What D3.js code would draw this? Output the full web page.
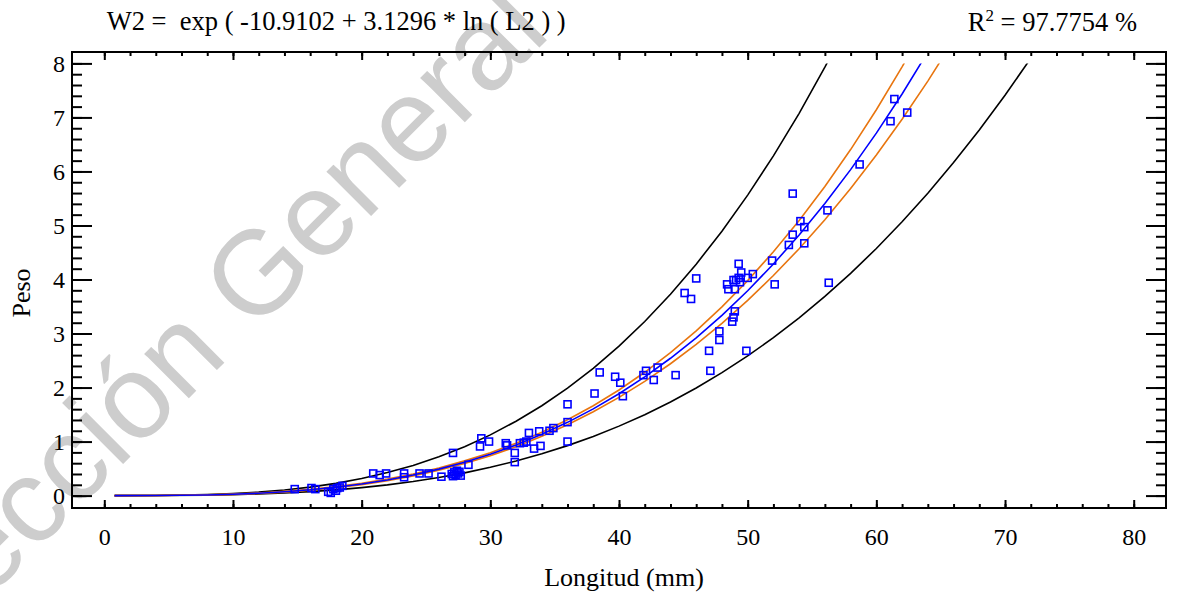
<!DOCTYPE html>
<html lang="es">
<head>
  <meta charset="UTF-8">
  <title>Peso vs Longitud</title>
  <script src="https://d3js.org/d3.v7.min.js"></script>
  <style>
    body { margin: 0; background: #fff; }
    svg text { font-family: "Liberation Serif", "Times New Roman", serif; fill: #000; }
    .tick line { stroke: #000; stroke-width: 2; }
  </style>
</head>
<body>
<svg width="1183" height="595"></svg>
<script>
// measured points: longitud (mm) and peso
const longitud = [14.8, 16.1, 16.4, 17.4, 17.6, 17.8, 18.0, 18.1, 18.3, 18.5,
  20.9, 21.4, 21.9, 23.3, 23.3, 24.5, 25.2, 26.2, 27.1, 27.0, 27.1, 27.2, 27.3, 27.4,
  27.5, 27.6, 27.7, 28.3, 29.2, 29.3, 29.9, 31.2, 31.3, 31.9, 31.9, 32.3, 32.6, 32.8,
  33.0, 33.4, 33.8, 33.9, 34.6, 34.9, 36.0, 36.0, 36.0, 38.1, 38.5, 39.7, 40.1, 40.3,
  41.9, 42.1, 42.7, 43.0, 44.4, 45.1, 45.6, 46.0, 47.0, 47.1, 47.8, 47.8, 48.4, 48.5,
  48.9, 49.0, 48.8, 48.9, 49.0, 49.1, 49.3, 49.5, 49.3, 49.4, 49.9, 50.0, 50.4, 51.9,
  52.1, 53.2, 53.5, 53.5, 54.1, 54.4, 54.4, 56.2, 56.3, 58.7, 61.1, 61.4, 62.4];
const peso = [0.12, 0.14, 0.12, 0.07, 0.05, 0.12, 0.09, 0.14, 0.15, 0.18,
  0.41, 0.38, 0.41, 0.41, 0.34, 0.41, 0.41, 0.35, 0.79, 0.40, 0.36, 0.43, 0.38, 0.46,
  0.41, 0.44, 0.37, 0.57, 0.91, 1.06, 1.00, 0.97, 0.93, 0.79, 0.62, 0.97, 0.98, 1.00,
  1.16, 0.87, 1.19, 0.92, 1.20, 1.25, 1.69, 1.36, 1.00, 1.89, 2.28, 2.20, 2.09, 1.84,
  2.23, 2.31, 2.14, 2.37, 2.23, 3.75, 3.64, 4.02, 2.68, 2.31, 3.04, 2.88, 3.91, 3.82,
  3.99, 3.82, 3.22, 3.30, 3.41, 3.99, 4.03, 4.13, 4.29, 3.95, 2.68, 4.03, 4.10, 4.35,
  3.91, 4.64, 4.83, 5.59, 5.08, 4.97, 4.67, 5.28, 3.94, 6.13, 6.93, 7.34, 7.09];

// curve readings along longitud
const curveL = [0.8, 4, 8, 10, 12, 14, 16, 18, 20, 22, 24, 26, 28, 30, 32, 34, 36, 38,
  40, 42, 44, 46, 48, 50, 52, 54, 56, 58, 60, 62, 64, 66, 68, 70, 72];
const fitW = [0, 0.001, 0.012, 0.025, 0.044, 0.071, 0.107, 0.155, 0.215, 0.290, 0.381,
  0.490, 0.618, 0.767, 0.938, 1.134, 1.356, 1.606, 1.886, 2.197, 2.542, 2.921, 3.337,
  3.792, 4.287, 4.825, 5.406, 6.034, 6.709, 7.434, 8.211];
const confUp = [0, 0.002, 0.014, 0.028, 0.049, 0.078, 0.116, 0.167, 0.230, 0.307, 0.401,
  0.512, 0.643, 0.795, 0.971, 1.173, 1.403, 1.663, 1.955, 2.283, 2.647, 3.050, 3.493,
  3.980, 4.513, 5.093, 5.723, 6.405, 7.142, 7.934, 8.787];
const confLo = [0, 0.001, 0.011, 0.022, 0.039, 0.064, 0.099, 0.144, 0.202, 0.275, 0.363,
  0.469, 0.594, 0.739, 0.906, 1.097, 1.311, 1.552, 1.819, 2.115, 2.441, 2.798, 3.188,
  3.613, 4.073, 4.570, 5.107, 5.684, 6.303, 6.965, 7.672, 8.426];
const predUp = [0, 0.002, 0.018, 0.036, 0.064, 0.104, 0.157, 0.227, 0.316, 0.426, 0.559,
  0.719, 0.906, 1.124, 1.376, 1.664, 1.989, 2.356, 2.766, 3.223, 3.728, 4.284, 4.895,
  5.562, 6.288, 7.076, 7.929, 8.850];
const predLo = [0, 0.001, 0.008, 0.017, 0.030, 0.048, 0.073, 0.106, 0.147, 0.198, 0.260,
  0.334, 0.421, 0.523, 0.640, 0.773, 0.925, 1.095, 1.286, 1.498, 1.733, 1.992, 2.275,
  2.585, 2.923, 3.290, 3.686, 4.114, 4.574, 5.069, 5.598, 6.164, 6.768, 7.411, 8.094];

const xMajor = [0, 10, 20, 30, 40, 50, 60, 70, 80];
const xMinor = d3.range(0, 80.1, 2);
const yMajor = [0, 1, 2, 3, 4, 5, 6, 7, 8];
const yMinor = d3.range(0, 8.01, 0.2);

const svg = d3.select("svg");
const frame = {left: 72, right: 1166, top: 52, bottom: 508};

const x = d3.scaleLinear().domain([0, 80]).range([104.3, 1133.7]);
const y = d3.scaleLinear().domain([0, 8]).range([495.6, 63.4]);

// watermark
svg.append("text")
  .attr("transform", "translate(-121,708) rotate(-45)")
  .style("font-family", "'Liberation Sans', Arial, sans-serif")
  .style("font-size", "119px")
  .style("fill", "#cdcdcd")
  .text("Dirección General de Bibliotecas");

// axes
function styleAxis(g) {
  g.select(".domain").remove();
  g.selectAll("text").style("font-size", "24px");
}
svg.append("g").attr("transform", `translate(0,${frame.bottom})`)
  .call(d3.axisBottom(x).tickValues(xMinor).tickSize(-4).tickFormat(""))
  .call(styleAxis);
svg.append("g").attr("transform", `translate(0,${frame.bottom})`)
  .call(d3.axisBottom(x).tickValues(xMajor).tickSize(-8).tickPadding(20).tickFormat(d3.format("d")))
  .call(styleAxis);
svg.append("g").attr("transform", `translate(0,${frame.top})`)
  .call(d3.axisTop(x).tickValues(xMinor).tickSize(-4).tickFormat(""))
  .call(styleAxis);
svg.append("g").attr("transform", `translate(0,${frame.top})`)
  .call(d3.axisTop(x).tickValues(xMajor).tickSize(-8).tickFormat(""))
  .call(styleAxis);

svg.append("g").attr("transform", `translate(${frame.left},0)`)
  .call(d3.axisLeft(y).tickValues(yMinor).tickSize(-10).tickFormat(""))
  .call(styleAxis);
svg.append("g").attr("transform", `translate(${frame.left},0)`)
  .call(d3.axisLeft(y).tickValues(yMajor).tickSize(-20).tickPadding(7).tickFormat(d3.format("d")))
  .call(styleAxis);
svg.append("g").attr("transform", `translate(${frame.right},0)`)
  .call(d3.axisRight(y).tickValues(yMinor).tickSize(-10).tickFormat(""))
  .call(styleAxis);
svg.append("g").attr("transform", `translate(${frame.right},0)`)
  .call(d3.axisRight(y).tickValues(yMajor).tickSize(-20).tickFormat(""))
  .call(styleAxis);

svg.append("rect")
  .attr("x", frame.left).attr("y", frame.top)
  .attr("width", frame.right - frame.left).attr("height", frame.bottom - frame.top)
  .attr("fill", "none").attr("stroke", "#000").attr("stroke-width", 2);

// curves, cut at the top value of the y axis
svg.append("clipPath").attr("id", "clip")
  .append("rect")
  .attr("x", frame.left).attr("y", y(8))
  .attr("width", frame.right - frame.left).attr("height", frame.bottom - y(8));

const line = d3.line().x((d, i) => x(curveL[i])).y(d => y(d));
const curves = [
  {vals: predUp, color: "#000000"},
  {vals: predLo, color: "#000000"},
  {vals: confUp, color: "#e8750f"},
  {vals: confLo, color: "#e8750f"},
  {vals: fitW, color: "#0000ff"}
];
svg.append("g").attr("clip-path", "url(#clip)")
  .selectAll("path")
  .data(curves)
  .join("path")
  .attr("d", d => line(d.vals))
  .attr("fill", "none")
  .attr("stroke", d => d.color)
  .attr("stroke-width", 1.6);

// points
const s = 7;
svg.append("g")
  .selectAll("rect")
  .data(longitud.map((l, i) => [l, peso[i]]))
  .join("rect")
  .attr("x", d => x(d[0]) - s / 2)
  .attr("y", d => y(d[1]) - s / 2)
  .attr("width", s).attr("height", s)
  .attr("fill", "none")
  .attr("stroke", "#0000ff")
  .attr("stroke-width", 1.6);

// texts
svg.append("text")
  .attr("x", 106.7).attr("y", 30)
  .style("font-size", "26.5px")
  .style("white-space", "pre")
  .text("W2 =  exp ( -10.9102 + 3.1296 * ln ( L2 ) )");

const r2 = svg.append("text")
  .attr("x", 1137).attr("y", 31)
  .attr("text-anchor", "end")
  .style("font-size", "26.5px");
r2.append("tspan").text("R");
r2.append("tspan").attr("dy", -10).style("font-size", "17px").text("2");
r2.append("tspan").attr("dy", 10).text(" = 97.7754 %");

svg.append("text")
  .attr("x", (x(0) + x(80)) / 2 + 5).attr("y", 586)
  .attr("text-anchor", "middle")
  .style("font-size", "26px")
  .text("Longitud (mm)");

svg.append("text")
  .attr("transform", `translate(30,${(frame.top + frame.bottom) / 2 + 13}) rotate(-90)`)
  .attr("text-anchor", "middle")
  .style("font-size", "26px")
  .text("Peso");
</script>
</body>
</html>
